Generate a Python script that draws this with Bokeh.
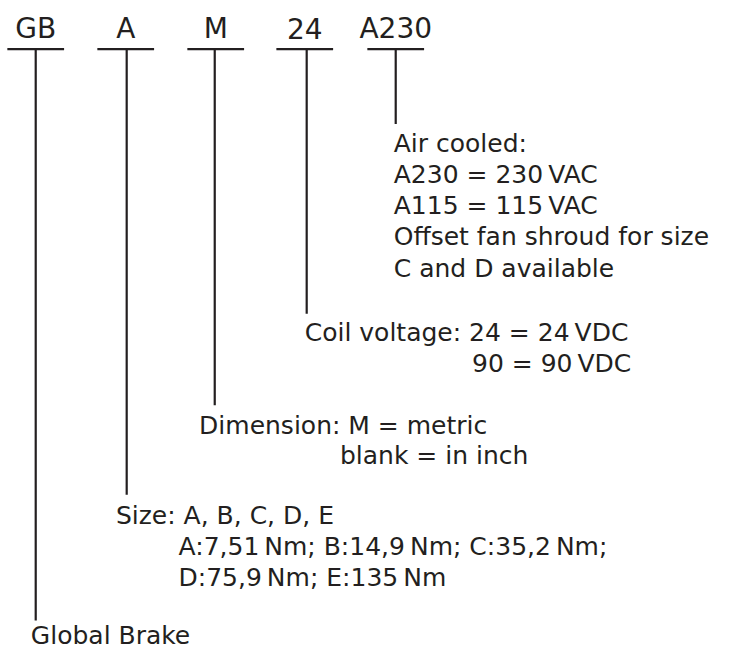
from bokeh.plotting import figure
from bokeh.models import Range1d, ColumnDataSource
from bokeh.core.properties import value
from bokeh.embed import file_html
from bokeh.resources import INLINE

# ---- data: type-code segments and their explanations ----
codes = ["GB", "A", "M", "24", "A230"]
desc_gb = ["Global Brake"]
desc_size = ["Size: A, B, C, D, E",
             "A:7,51\u2009Nm; B:14,9\u2009Nm; C:35,2\u2009Nm;",
             "D:75,9\u2009Nm; E:135\u2009Nm"]
desc_dim = ["Dimension: M = metric", "blank = in inch"]
desc_coil = ["Coil voltage: 24 = 24\u2009VDC", "90 = 90\u2009VDC"]
desc_air = ["Air cooled:", "A230 = 230\u2009VAC", "A115 = 115\u2009VAC",
            "Offset fan shroud for size", "C and D available"]
descriptions = [desc_gb, desc_size, desc_dim, desc_coil, desc_air]

# ---- layout (positions in the drawing's own units) ----
col_x = [36, 129, 219, 313, 404]        # vertical leader lines
head_cx = [36, 128, 220, 311, 404]      # code label centres
bar_half = 29
bar_y = 50
head_base = 39
line_end = [637, 508, 416, 322, 127]
text_x = [[31], [118, 182, 182], [203, 347], [311, 482], [402] * 5]
text_base = [[663], [539, 571, 603], [447, 478], [351, 383], [157, 189, 221, 253, 285]]
BASE_FIX = -10   # renderer places alphabetic baseline a little low

INK = "#231f20"
FONT = "DejaVu Sans"

p = figure(width=720, height=653, output_backend="svg", toolbar_location=None,
           x_range=Range1d(0, 736), y_range=Range1d(671, 0),
           min_border=0)
p.xaxis.visible = False
p.yaxis.visible = False
p.grid.visible = False
p.outline_line_color = None
p.background_fill_color = "white"
p.border_fill_color = "white"

# horizontal bars under each code
p.segment(x0=[c - bar_half for c in head_cx], x1=[c + bar_half for c in head_cx],
          y0=[bar_y] * len(codes), y1=[bar_y] * len(codes),
          line_color=INK, line_width=2.2)
# vertical leaders
p.segment(x0=col_x, x1=col_x, y0=[bar_y] * len(codes), y1=line_end,
          line_color=INK, line_width=2.2)

# code labels
p.text(x=head_cx, y=[head_base + BASE_FIX] * len(codes), text=codes,
       text_font=value(FONT), text_font_size="28px", text_color=INK,
       text_align="center", text_baseline="alphabetic")

# description texts
xs, ys, ts = [], [], []
for d, xl, yl in zip(descriptions, text_x, text_base):
    for t, x, y in zip(d, xl, yl):
        xs.append(x); ys.append(y + BASE_FIX); ts.append(t)
src = ColumnDataSource(dict(x=xs, y=ys, t=ts))
p.text(x="x", y="y", text="t", source=src,
       text_font=value(FONT), text_font_size="25px", text_color=INK,
       text_align="left", text_baseline="alphabetic")

open("out.html", "w").write(file_html(p, INLINE))
